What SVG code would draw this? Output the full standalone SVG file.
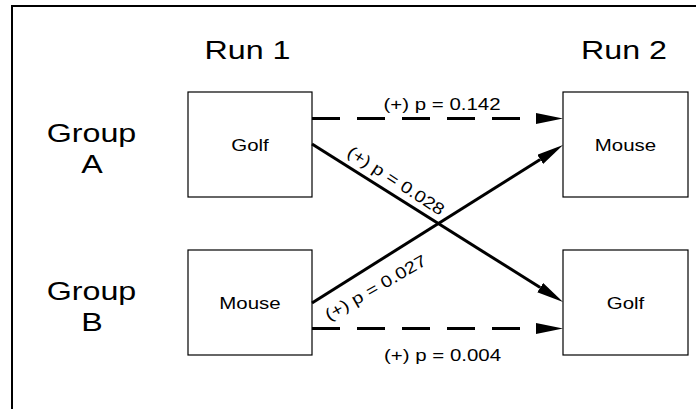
<svg xmlns="http://www.w3.org/2000/svg" width="696" height="409" viewBox="0 0 696 409">
<defs>
<style>
text{font-family:"Liberation Sans",Arial,sans-serif;fill:#000;}
.big{font-size:26px;text-anchor:middle;}
.sm{font-size:16.5px;text-anchor:middle;}
.lbl{font-size:16.5px;}
.box{fill:#fff;stroke:#000;stroke-width:1.2;}
.con{fill:none;stroke:#000;stroke-width:3;}
.dash{stroke-dasharray:28 17;}
</style>
<marker id="arr" markerUnits="userSpaceOnUse" markerWidth="28" markerHeight="12" refX="0" refY="5.5" orient="auto">
<path d="M0,0 L27,5.5 L0,11 Z" fill="#000"/>
</marker>
</defs>
<rect width="696" height="409" fill="#fff"/>
<path d="M12,409 V6 H696" fill="none" stroke="#000" stroke-width="2"/>

<text class="big" transform="translate(247.5,59) scale(1.24,1)">Run 1</text>
<text class="big" transform="translate(624,59) scale(1.24,1)">Run 2</text>
<text class="big" transform="translate(91.5,142) scale(1.24,1)">Group</text>
<text class="big" transform="translate(92,173) scale(1.24,1)">A</text>
<text class="big" transform="translate(91.5,300) scale(1.24,1)">Group</text>
<text class="big" transform="translate(92,331) scale(1.24,1)">B</text>

<g id="run1-golf">
<rect class="box" x="188" y="92" width="124" height="105"/>
<text class="sm" transform="translate(250,150.5) scale(1.24,1)">Golf</text>
</g>
<g id="run1-mouse">
<rect class="box" x="188" y="250" width="124" height="105"/>
<text class="sm" transform="translate(250,308.5) scale(1.24,1)">Mouse</text>
</g>
<g id="run2-mouse">
<rect class="box" x="563" y="92" width="125" height="105"/>
<text class="sm" transform="translate(625.5,150.5) scale(1.24,1)">Mouse</text>
</g>
<g id="run2-golf">
<rect class="box" x="563" y="250" width="125" height="105"/>
<text class="sm" transform="translate(625.5,308.5) scale(1.24,1)">Golf</text>
</g>

<g id="connectors">
<path class="con dash" d="M312,118.5 H536" marker-end="url(#arr)"/>
<path class="con dash" d="M312,328.5 H536" marker-end="url(#arr)"/>
<path class="con" d="M312,144 L540.2,287.6" marker-end="url(#arr)"/>
<path class="con" d="M312,303 L540.2,159.4" marker-end="url(#arr)"/>
</g>

<g id="labels">
<text class="sm" transform="translate(442,110) scale(1.24,1)">(+) p = 0.142</text>
<text class="sm" transform="translate(442.5,361) scale(1.24,1)">(+) p = 0.004</text>
<text class="lbl" transform="translate(346,155) rotate(33)" textLength="112" lengthAdjust="spacingAndGlyphs">(+) p = 0.028</text>
<text class="lbl" transform="translate(329,321) rotate(-30)" textLength="114" lengthAdjust="spacingAndGlyphs">(+) p = 0.027</text>
</g>
</svg>
